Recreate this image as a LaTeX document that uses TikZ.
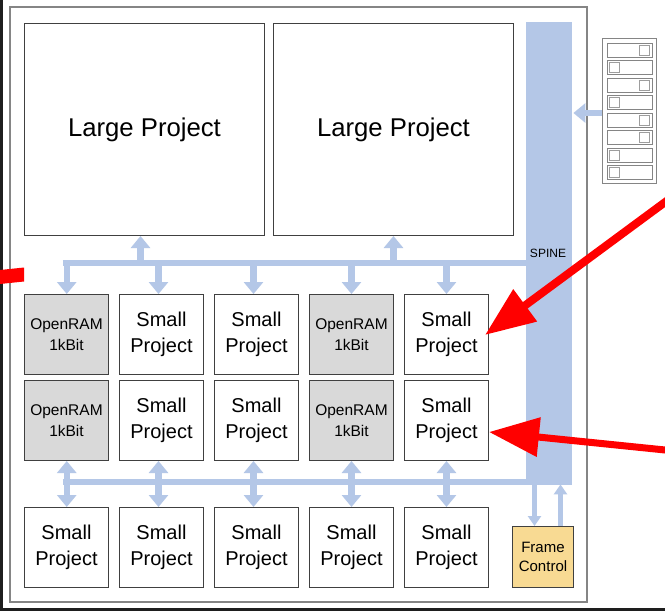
\documentclass[tikz,border=0pt]{standalone}
\usepackage{fontspec}
\setmainfont{Liberation Sans}
\usetikzlibrary{arrows.meta}
\definecolor{bus}{HTML}{B4C7E7}
\definecolor{ramgray}{HTML}{D9D9D9}
\definecolor{frameyel}{HTML}{F8DA93}
\definecolor{boxline}{HTML}{404040}
\definecolor{framegray}{HTML}{858585}
\definecolor{strip}{HTML}{1E1E1E}
\tikzset{
 box/.style={draw=boxline, line width=1pt, fill=white, minimum width=84pt, minimum height=80pt, inner sep=0pt, anchor=north west, align=center, font=\fontsize{20}{26}\selectfont},
 ram/.style={box, fill=ramgray, font=\fontsize{15.5}{21}\selectfont},
 large/.style={box, minimum width=240pt, minimum height=212pt, font=\fontsize{25.7}{30}\selectfont},
 fcbox/.style={box, fill=frameyel, minimum width=61pt, minimum height=61pt, font=\fontsize{15}{19.5}\selectfont},
 busline/.style={draw=bus, line width=6.5pt},
 busarrow/.style={busline, -{Triangle[width=19pt,length=12pt]}},
 busdouble/.style={busline, {Triangle[width=19pt,length=12pt]}-{Triangle[width=19pt,length=12pt]}},
 smallarrow/.style={draw=bus, line width=5pt, -{Triangle[width=13pt,length=10pt]}},
 redarr/.style={draw=red, -{Triangle[width=38pt,length=50pt]}},
 cfgrow/.style={draw=framegray, line width=0.8pt, fill=white, minimum width=45pt, minimum height=14pt, inner sep=0pt, anchor=north west},
 cfgsq/.style={draw=framegray!80, line width=0.8pt, fill=white, minimum width=10pt, minimum height=10pt, inner sep=0pt},
}
\begin{document}
\begin{tikzpicture}[x=1pt,y=-1pt]
\useasboundingbox (0,0) rectangle (665,611);
\fill[white] (0,0) rectangle (665,611);
% outer frame
\draw[framegray, line width=1.5pt] (10,7) rectangle (587,602);
% spine
\node[fill=bus, minimum width=46pt, minimum height=463pt, inner sep=0pt, anchor=north west] (spine) at (526,22) {};
\node[font=\fontsize{12}{14}\selectfont] (spinelabel) at (548,253) {SPINE};
% large projects
\node[large] (L1) at (24,23) {Large Project};
\node[large] (L2) at (273,23) {Large Project};
% rows
\node[ram] (a1) at (24,294) {OpenRAM\\1kBit};
\node[box] (a2) at (119,294) {Small\\Project};
\node[box] (a3) at (214,294) {Small\\Project};
\node[ram] (a4) at (309,294) {OpenRAM\\1kBit};
\node[box] (a5) at (404,294) {Small\\Project};
\node[ram] (b1) at (24,380) {OpenRAM\\1kBit};
\node[box] (b2) at (119,380) {Small\\Project};
\node[box] (b3) at (214,380) {Small\\Project};
\node[ram] (b4) at (309,380) {OpenRAM\\1kBit};
\node[box] (b5) at (404,380) {Small\\Project};
\node[box] (c1) at (24,507) {Small\\Project};
\node[box] (c2) at (119,507) {Small\\Project};
\node[box] (c3) at (214,507) {Small\\Project};
\node[box] (c4) at (309,507) {Small\\Project};
\node[box] (c5) at (404,507) {Small\\Project};
\node[fcbox] (fc) at (512,526) {Frame\\Control};
% top bus
\coordinate (tbL) at (62.75,263);
\draw[busline] (tbL) -- (spine.west |- tbL);
\draw[busarrow] ([xshift=0.25pt]a1.north |- tbL) -- ([xshift=0.25pt]a1.north);
\draw[busarrow] ([xshift=-3pt]a2.north |- tbL) -- ([xshift=-3pt]a2.north);
\draw[busarrow] ([xshift=-3pt]a3.north |- tbL) -- ([xshift=-3pt]a3.north);
\draw[busarrow] (a4.north |- tbL) -- (a4.north);
\draw[busarrow] (a5.north |- tbL) -- (a5.north);
\draw[busarrow] ([xshift=-4pt]L1.south |- tbL) -- ([xshift=-4pt]L1.south);
\draw[busarrow] (L2.south |- tbL) -- (L2.south);
% lower bus
\coordinate (lbL) at (62.75,482);
\draw[busline] (lbL) -- (spine.west |- lbL);
\draw[busdouble] ([xshift=0.25pt]b1.south) -- ([xshift=0.25pt]c1.north);
\draw[busdouble] ([xshift=-3pt]b2.south) -- ([xshift=-3pt]c2.north);
\draw[busdouble] ([xshift=-3pt]b3.south) -- ([xshift=-3pt]c3.north);
\draw[busdouble] (b4.south) -- (c4.north);
\draw[busdouble] (b5.south) -- (c5.north);
% frame control arrows
\draw[smallarrow] ([xshift=-8.5pt]fc.north |- spine.south) -- ([xshift=-8.5pt]fc.north);
\draw[smallarrow] ([xshift=17.5pt]fc.north) -- ([xshift=17.5pt,yshift=1pt]fc.north |- spine.south);
% config panel
\node[draw=framegray, line width=0.8pt, fill=white, minimum width=54pt, minimum height=145pt, inner sep=0pt, anchor=north west] (cfg) at (602,38) {};
\foreach \i/\s in {0/R,1/L,2/R,3/L,4/R,5/R,6/L,7/L}{
  \node[cfgrow] (row\i) at (607,42.5+17.5*\i) {};
  \if R\s
    \node[cfgsq, anchor=east] (sq\i) at ([xshift=-3pt]row\i.east) {};
  \else
    \node[cfgsq, anchor=west] (sq\i) at ([xshift=2pt]row\i.west) {};
  \fi
}
\coordinate (cfgin) at (602,113);
\draw[busarrow] (cfgin) -- ([xshift=1pt]spine.east |- cfgin);
% screenshot edges
\fill[strip] (0,0) rectangle (3,611);
\fill[strip] (0,608) rectangle (665,611);
% red arrows
\fill[red] (0,270) -- (24,267.5) -- (24,281.5) -- (0,284) -- cycle;
\coordinate (rs1) at (670,198.5);
\coordinate (rt1) at (485,335);
\draw[redarr, line width=8pt] (rs1) -- (rt1);
\coordinate (rs2) at (670,450.5);
\coordinate (rt2) at (489,432);
\draw[redarr, line width=7pt] (rs2) -- (rt2);
\end{tikzpicture}
\end{document}
